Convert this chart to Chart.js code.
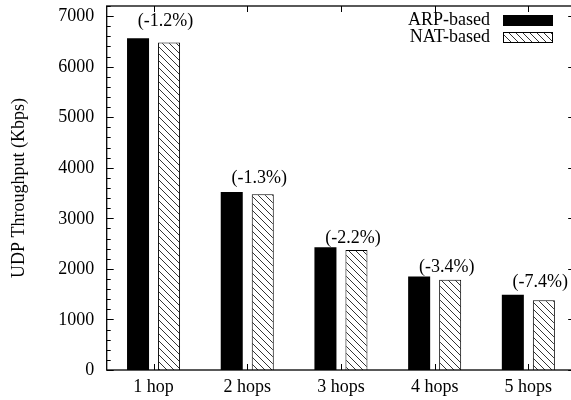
<!DOCTYPE html>
<html>
<head>
<meta charset="utf-8">
<script src="https://cdn.jsdelivr.net/npm/chart.js@4/dist/chart.umd.min.js"></script>
<style>
  html, body { margin: 0; padding: 0; background: #fff; overflow: hidden; }
  #wrap { width: 580px; height: 400px; }
</style>
</head>
<body>
<div id="wrap"><canvas id="c" width="580" height="400"></canvas></div>
<script>
const categories = ['1 hop', '2 hops', '3 hops', '4 hops', '5 hops'];
const arpValues = [6560, 3520, 2430, 1850, 1490];
const natValues = [6480, 3475, 2375, 1787, 1380];
const diffLabels = ['(-1.2%)', '(-1.3%)', '(-2.2%)', '(-3.4%)', '(-7.4%)'];
const diffLabelY = [6900, 3800, 2610, 2040, 1745];
const yTickValues = [0, 1000, 2000, 3000, 4000, 5000, 6000, 7000];
const seriesNames = ['ARP-based', 'NAT-based'];
const yTitle = 'UDP Throughput (Kbps)';
const yMax = 7200;

const FONT = '"Liberation Serif", "Times New Roman", serif';

function makeHatch() {
  const s = 7;
  const c = document.createElement('canvas');
  c.width = s; c.height = s;
  const g = c.getContext('2d');
  g.fillStyle = '#fff';
  g.fillRect(0, 0, s, s);
  g.strokeStyle = '#000';
  g.lineWidth = 0.8;
  g.beginPath();
  g.moveTo(-1, -1); g.lineTo(s + 1, s + 1);
  g.moveTo(-1, s - 1); g.lineTo(1, s + 1);
  g.moveTo(s - 1, -1); g.lineTo(s + 1, 1);
  g.stroke();
  return g.createPattern(c, 'repeat');
}
const hatch = makeHatch();

const framePlugin = {
  id: 'frame',
  afterDraw(chart) {
    const { ctx, chartArea: { left, right, top, bottom }, scales: { x, y } } = chart;
    ctx.save();
    ctx.strokeStyle = '#000';
    ctx.lineWidth = 1.3;
    ctx.strokeRect(left, top, right - left, bottom - top);
    ctx.lineWidth = 1;
    ctx.beginPath();
    for (let v = 0; v <= yMax; v += 200) {
      const py = Math.round(y.getPixelForValue(v)) + 0.5;
      const major = v % 1000 === 0;
      const len = major ? 7 : 4;
      ctx.moveTo(left, py); ctx.lineTo(left + len, py);
      ctx.moveTo(right, py); ctx.lineTo(right - len, py);
    }
    categories.forEach((c, i) => {
      const px = Math.round(x.getPixelForValue(i)) + 0.5;
      ctx.moveTo(px, bottom); ctx.lineTo(px, bottom - 6);
      ctx.moveTo(px, top); ctx.lineTo(px, top + 6);
    });
    ctx.stroke();

    ctx.fillStyle = '#000';
    ctx.font = '18px ' + FONT;
    ctx.textBaseline = 'middle';

    // y tick labels
    ctx.textAlign = 'right';
    yTickValues.forEach(v => {
      ctx.fillText(String(v), left - 12.5, y.getPixelForValue(v) + 0.5);
    });

    // annotations
    const natMeta = chart.getDatasetMeta(1);
    ctx.textAlign = 'center';
    diffLabels.forEach((t, i) => {
      const bar = natMeta.data[i];
      ctx.fillText(t, bar.x - 3.5, y.getPixelForValue(diffLabelY[i]));
    });

    // legend
    const fills = ['#000', hatch];
    ctx.textAlign = 'right';
    seriesNames.forEach((n, i) => {
      const cy = 20.5 + i * 17;
      ctx.fillStyle = '#000';
      ctx.fillText(n, 490, cy);
      ctx.fillStyle = fills[i];
      ctx.fillRect(503, cy - 5.5, 50, 11);
      if (i === 1) {
        ctx.strokeStyle = '#000';
        ctx.lineWidth = 1;
        ctx.strokeRect(503.5, cy - 5, 49, 10);
      }
    });
    ctx.restore();
  }
};

new Chart(document.getElementById('c'), {
  type: 'bar',
  data: {
    labels: categories,
    datasets: [
      { label: seriesNames[0], data: arpValues, backgroundColor: '#000', borderWidth: 0 },
      { label: seriesNames[1], data: natValues, backgroundColor: hatch, borderColor: '#000', borderWidth: 1 }
    ]
  },
  options: {
    responsive: false,
    animation: false,
    events: [],
    categoryPercentage: 0.662,
    barPercentage: 0.71,
    layout: { padding: { top: 6, right: 4.8, left: 0, bottom: 0 } },
    plugins: { legend: { display: false }, tooltip: { enabled: false } },
    scales: {
      x: {
        grid: { display: false, drawTicks: false },
        border: { display: false },
        ticks: { color: '#000', font: { family: FONT, size: 18 }, padding: 6, maxRotation: 0 },
        afterFit(s) { s.height = 30; }
      },
      y: {
        min: 0, max: yMax,
        grid: { display: false, drawTicks: false },
        border: { display: false },
        ticks: { display: false, stepSize: 1000 },
        title: { display: true, text: yTitle, color: '#000', font: { family: FONT, size: 18 }, padding: { top: 8, bottom: 0 } },
        afterFit(s) { s.width = 106.7; }
      }
    }
  },
  plugins: [framePlugin]
});
</script>
</body>
</html>
